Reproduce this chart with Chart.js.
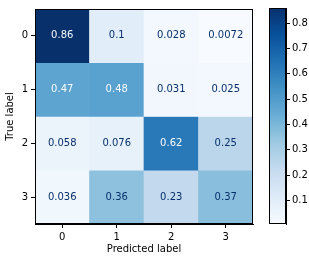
<!DOCTYPE html>
<html>
<head>
<meta charset="utf-8">
<script src="https://cdn.jsdelivr.net/npm/chart.js@4"></script>
<style>
  html, body { margin: 0; padding: 0; background: #fff; }
  #wrap { position: relative; width: 309px; height: 262px; }
  #main { position: absolute; left: 0; top: 0; }
  #bar { position: absolute; left: 260px; top: 0; }
</style>
</head>
<body>
<div id="wrap">
  <canvas id="main" width="260" height="262"></canvas>
  <canvas id="bar" width="49" height="262"></canvas>
</div>
<script>
const predLabels = ["0", "1", "2", "3"];
const trueLabels = ["0", "1", "2", "3"];
const row0 = [0.86, 0.1, 0.028, 0.0072];
const row1 = [0.47, 0.48, 0.031, 0.025];
const row2 = [0.058, 0.076, 0.62, 0.25];
const row3 = [0.036, 0.36, 0.23, 0.37];
const matrix = [row0, row1, row2, row3];
const colorbarTicks = [0.1, 0.2, 0.3, 0.4, 0.5, 0.6, 0.7, 0.8];

const vmin = Math.min(...matrix.flat());
const vmax = Math.max(...matrix.flat());

// matplotlib "Blues"
const blues = ["#f7fbff", "#deebf7", "#c6dbef", "#9ecae1", "#6baed6", "#4292c6", "#2171b5", "#08519c", "#08306b"];

function hexToRgb(h) {
  return [parseInt(h.slice(1, 3), 16), parseInt(h.slice(3, 5), 16), parseInt(h.slice(5, 7), 16)];
}

function bluesColor(v) {
  let t = (v - vmin) / (vmax - vmin);
  t = Math.max(0, Math.min(1, t));
  const pos = t * (blues.length - 1);
  const i = Math.min(Math.floor(pos), blues.length - 2);
  const f = pos - i;
  const a = hexToRgb(blues[i]), b = hexToRgb(blues[i + 1]);
  const c = a.map((x, k) => Math.round(x + (b[k] - x) * f));
  return `rgb(${c[0]}, ${c[1]}, ${c[2]})`;
}

const fontFamily = "'DejaVu Sans', sans-serif";
Chart.defaults.font.family = fontFamily;
Chart.defaults.font.size = 10;
Chart.defaults.color = "#000";

const framePlugin = {
  id: "frame",
  afterDraw(chart) {
    const { ctx, chartArea: a } = chart;
    ctx.save();
    ctx.strokeStyle = "#000";
    ctx.lineWidth = 1;
    ctx.strokeRect(Math.round(a.left) + 0.5, Math.round(a.top) + 0.5,
      Math.round(a.right - a.left) - 1, Math.round(a.bottom - a.top) - 1);
    ctx.restore();
  }
};

const cellTextPlugin = {
  id: "cellText",
  afterDatasetsDraw(chart) {
    const { ctx, scales } = chart;
    const thresh = (vmin + vmax) / 2;
    ctx.save();
    ctx.font = "10px " + fontFamily;
    ctx.textAlign = "center";
    ctx.textBaseline = "middle";
    matrix.forEach((row, r) => {
      row.forEach((v, c) => {
        const x = scales.x.getPixelForValue(c);
        const y = scales.y.getPixelForValue(r);
        ctx.fillStyle = v > thresh ? blues[0] : blues[8];
        ctx.fillText(String(Number(v.toPrecision(2))), x, y);
      });
    });
    ctx.restore();
  }
};

const datasets = matrix.map((row, r) => ({
  label: "true " + trueLabels[r],
  data: row.map(() => [r - 0.5, r + 0.5]),
  backgroundColor: row.map(v => bluesColor(v)),
  borderWidth: 0,
  barPercentage: 1,
  categoryPercentage: 1,
  grouped: false
}));

new Chart(document.getElementById("main"), {
  type: "bar",
  data: { labels: predLabels, datasets: datasets },
  options: {
    responsive: false,
    animation: false,
    layout: { padding: { left: 0, top: 6, right: 7, bottom: 0 } },
    plugins: { legend: { display: false }, tooltip: { enabled: false } },
    scales: {
      x: {
        type: "category",
        offset: true,
        grid: { offset: false, drawOnChartArea: false, drawTicks: true, tickLength: 4, color: "#000" },
        border: { display: true, color: "#000" },
        ticks: { padding: 3, color: "#000" },
        title: { display: true, text: "Predicted label", color: "#000", padding: { top: 2, bottom: 7 } },
        afterFit(s) { s.height = 38; }
      },
      y: {
        type: "linear",
        min: -0.5,
        max: 3.5,
        reverse: true,
        afterBuildTicks(s) { s.ticks = trueLabels.map((_, i) => ({ value: i })); },
        grid: { drawOnChartArea: false, drawTicks: true, tickLength: 4, color: "#000" },
        border: { display: true, color: "#000" },
        ticks: { padding: 3, color: "#000", callback: (v) => trueLabels[v] },
        title: { display: true, text: "True label", color: "#000", padding: { top: 4, bottom: 2 } },
        afterFit(s) { s.width = 35; }
      }
    }
  },
  plugins: [cellTextPlugin, framePlugin]
});

new Chart(document.getElementById("bar"), {
  type: "bar",
  data: {
    labels: [""],
    datasets: [{
      data: [[vmin, vmax]],
      borderWidth: 0,
      barPercentage: 1,
      categoryPercentage: 1,
      backgroundColor(ctx) {
        const chart = ctx.chart;
        const y = chart.scales.y;
        if (!chart.chartArea || !y) return blues[4];
        const g = chart.ctx.createLinearGradient(0, y.getPixelForValue(vmin), 0, y.getPixelForValue(vmax));
        blues.forEach((c, i) => g.addColorStop(i / (blues.length - 1), c));
        return g;
      }
    }]
  },
  options: {
    responsive: false,
    animation: false,
    layout: { padding: { left: 9, top: 6, right: 0, bottom: 38 } },
    plugins: { legend: { display: false }, tooltip: { enabled: false } },
    scales: {
      x: { display: false },
      y: {
        position: "right",
        min: vmin,
        max: vmax,
        afterBuildTicks(s) { s.ticks = colorbarTicks.map(v => ({ value: v })); },
        grid: { drawOnChartArea: false, drawTicks: true, tickLength: 4, color: "#000" },
        border: { display: true, color: "#000" },
        ticks: { padding: 2, color: "#000", callback: (v) => v.toFixed(1) },
        afterFit(s) { s.width = 23; }
      }
    }
  },
  plugins: [framePlugin]
});
</script>
</body>
</html>
